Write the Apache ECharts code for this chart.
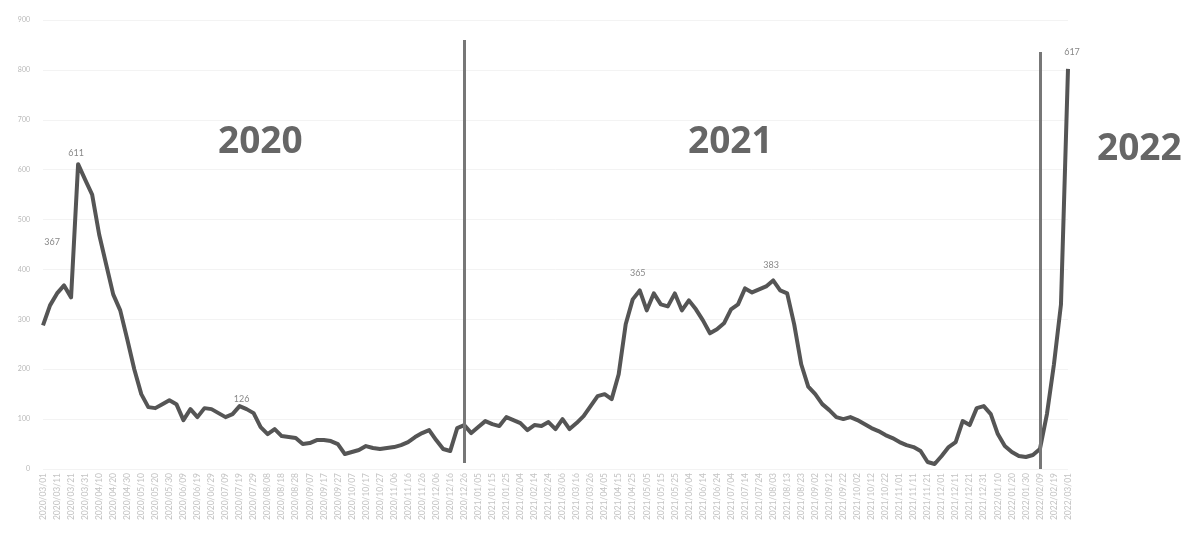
<!DOCTYPE html>
<html>
<head>
<meta charset="utf-8">
<script src="https://cdn.jsdelivr.net/npm/echarts@6/dist/echarts.min.js"></script>
<style>
html,body{margin:0;padding:0;background:#fff;}
#chart{width:1189px;height:535px;}
</style>
</head>
<body>
<div id="chart"></div>
<script>
// Series values (one per period)
const values = [
  288,328,352,368,344,611,580,550,470,410,
  350,318,260,200,150,124,122,130,138,130,
  98,120,104,122,120,112,104,110,126,120,
  112,84,70,80,66,64,62,50,52,58,
  58,56,50,30,34,38,46,42,40,42,
  44,48,54,64,72,78,58,40,36,82,
  88,72,84,96,90,86,104,98,92,78,
  88,86,94,80,100,80,92,106,126,146,
  150,140,190,290,340,358,318,352,330,326,
  352,318,338,320,298,272,280,292,320,330,
  362,354,360,366,378,358,352,290,210,165,
  150,130,118,104,100,104,98,90,82,76,
  68,62,54,48,44,36,14,10,26,44,
  54,96,88,122,126,110,70,46,34,26,
  24,28,40,110,210,330,802
];
// Period labels
const startDate = [2020, 3, 1];
const stepDays = 5;
const categories = values.map((_, i) => {
  const d = new Date(Date.UTC(startDate[0], startDate[1] - 1, startDate[2] + i * stepDays));
  const mm = String(d.getUTCMonth() + 1).padStart(2, '0');
  const dd = String(d.getUTCDate()).padStart(2, '0');
  return d.getUTCFullYear() + '/' + mm + '/' + dd;
});
// Annotated values (index into values, displayed text)
const annotations = [
  { index: 3, text: '367' },
  { index: 5, text: '611' },
  { index: 28, text: '126' },
  { index: 85, text: '365' },
  { index: 104, text: '383' },
  { index: 146, text: '617' }
];
// Year dividers (category index, line top value, line bottom value)
const yearDividers = [
  { index: 60, top: 860, bottom: 12 },
  { index: 142, top: 836, bottom: 0 }
];
const yearTitles = ['2020', '2021', '2022'];
const yTicks = [0, 100, 200, 300, 400, 500, 600, 700, 800, 900];

const labelOffsets = {
  '367': [-12, -32],
  '611': [-2, 0],
  '126': [2, 4],
  '365': [-2, -6],
  '383': [-2, -4],
  '617': [4, -6]
};

const chart = echarts.init(document.getElementById('chart'));
chart.setOption({
  animation: false,
  backgroundColor: '#fff',
  grid: { left: 43, right: 121, top: 20, bottom: 66 },
  xAxis: {
    type: 'category',
    data: categories,
    boundaryGap: false,
    axisLine: { show: false },
    axisTick: { show: false },
    axisLabel: {
      interval: 1,
      rotate: 90,
      fontSize: 8.5,
      color: '#c4c4c4',
      margin: 4,
      fontFamily: 'Lato'
    }
  },
  yAxis: {
    type: 'value',
    min: yTicks[0],
    max: yTicks[yTicks.length - 1],
    interval: 100,
    axisLine: { show: false },
    axisTick: { show: false },
    axisLabel: { fontSize: 7, color: '#b8b8b8', margin: 13, fontFamily: 'Lato' },
    splitLine: { lineStyle: { color: '#f3f3f3', width: 1 } }
  },
  series: [{
    type: 'line',
    data: values,
    showSymbol: false,
    lineStyle: { color: '#555', width: 4, join: 'round' },
    itemStyle: { color: '#555' },
    z: 3,
    markPoint: {
      silent: true,
      symbol: 'circle',
      symbolSize: 1,
      itemStyle: { color: 'rgba(0,0,0,0)' },
      data: annotations.map(a => ({
        coord: [categories[a.index], values[a.index]],
        label: {
          show: true,
          position: 'top',
          distance: 6,
          formatter: a.text,
          offset: labelOffsets[a.text] || [0, 0],
          color: '#888',
          fontSize: 9,
          fontFamily: 'Lato'
        }
      }))
    },
    markLine: {
      silent: true,
      symbol: ['none', 'none'],
      label: { show: false },
      lineStyle: { color: '#777', width: 3, type: 'solid' },
      data: yearDividers.map(d => [
        { coord: [categories[d.index], d.top] },
        { coord: [categories[d.index], d.bottom] }
      ])
    }
  }],
  graphic: [
    { type: 'text', left: 218, top: 124, style: { text: yearTitles[0], font: 'bold 37px "Open Sans"', fill: '#666' } },
    { type: 'text', left: 688, top: 124, style: { text: yearTitles[1], font: 'bold 37px "Open Sans"', fill: '#666' } },
    { type: 'text', left: 1097, top: 131, style: { text: yearTitles[2], font: 'bold 37px "Open Sans"', fill: '#666' } }
  ]
});
</script>
</body>
</html>
